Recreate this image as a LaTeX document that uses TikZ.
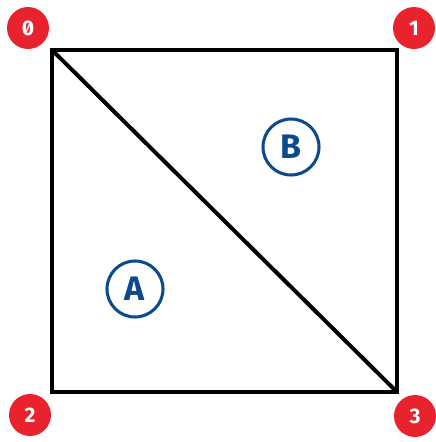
\documentclass[tikz,border=0pt]{standalone}
\usepackage{fontspec}
\setmainfont{Fira Sans}[Numbers=SlashedZero]
\definecolor{cornerred}{HTML}{E8232D}
\definecolor{regionblue}{HTML}{0B4A8C}

\begin{document}
\begin{tikzpicture}[x=0.03cm,y=-0.03cm,
    cornerdot/.style={circle,fill=cornerred,text=white,minimum size=42*0.03cm,
                      inner sep=0pt,font=\fontsize{18}{18}\selectfont\bfseries},
    regionmark/.style={circle,draw=regionblue,line width=2.6pt,text=regionblue,
                       minimum size=56*0.03cm,inner sep=0pt,
                       font=\fontsize{29}{29}\selectfont\bfseries}]
    \useasboundingbox (0,0) rectangle (435,442);
    \coordinate (tl) at (52,50);
    \coordinate (tr) at (397,50);
    \coordinate (bl) at (52,392);
    \coordinate (br) at (397,392);
    \draw[line width=3.4pt] (tl) -- (tr) -- (br) -- (bl) -- cycle;
    \draw[line width=3.4pt] (tl) -- (br);
    \node[cornerdot] (c0) at (28,28) {0};
    \node[cornerdot] (c1) at (414,28) {1};
    \node[cornerdot] (c2) at (30,415) {2};
    \node[cornerdot] (c3) at (415,416) {3};
    \node[regionmark] (ra) at (135,289) {A};
    \node[regionmark] (rb) at (291,147) {B};
  \end{tikzpicture}
\end{document}
